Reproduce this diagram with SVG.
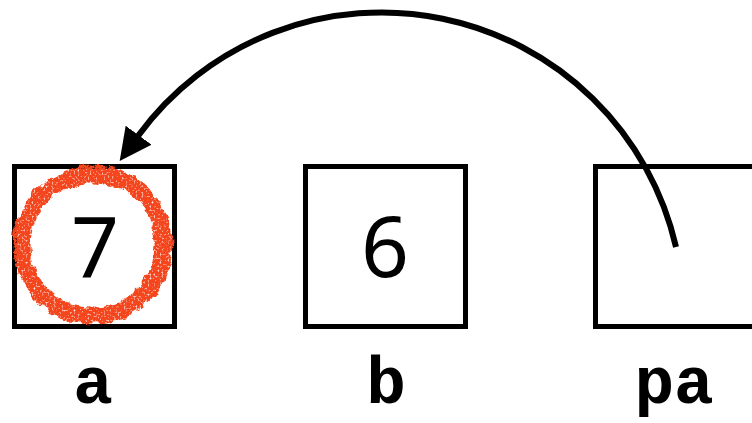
<svg xmlns="http://www.w3.org/2000/svg" width="752" height="423" viewBox="0 0 752 423">
<style>
.box{fill:#fff;stroke:#000;stroke-width:5}
.val{font-family:"Noto Sans","Liberation Sans",sans-serif;font-size:84px;fill:#000;text-anchor:middle}
.lbl{font-family:"Liberation Mono","DejaVu Sans Mono",monospace;font-weight:bold;font-size:66px;fill:#000;text-anchor:middle}
.conn{fill:none;stroke:#000;stroke-width:6}
</style>
<defs>
<marker id="head" markerUnits="userSpaceOnUse" viewBox="0 0 32 32" markerWidth="32" markerHeight="32" refX="1" refY="16" orient="auto">
<path d="M0,0 L32,16 L0,32 z" fill="#000"/>
</marker>
<filter id="rough" x="-20%" y="-20%" width="140%" height="140%">
<feTurbulence type="fractalNoise" baseFrequency="0.1" numOctaves="3" seed="4" result="n"/>
<feDisplacementMap in="SourceGraphic" in2="n" scale="9" xChannelSelector="R" yChannelSelector="G" result="d"/>
<feTurbulence type="fractalNoise" baseFrequency="0.5" numOctaves="2" seed="9" result="s"/>
<feColorMatrix in="s" type="matrix" values="0 0 0 0 0  0 0 0 0 0  0 0 0 0 0  0 0 0 -3 2.6" result="m"/>
<feComposite in="d" in2="m" operator="in"/>
</filter>
</defs>
<g id="node-a">
<rect class="box" x="14.5" y="166.5" width="160" height="160"/>
<text class="val" x="95" y="277">7</text>
<g filter="url(#rough)">
<circle cx="93" cy="245" r="71" fill="none" stroke="#F4451A" stroke-width="17"/>
</g>
<text class="lbl" x="93" y="403">a</text>
</g>
<g id="node-b">
<rect class="box" x="305.5" y="166.5" width="160" height="160"/>
<text class="val" x="385" y="277">6</text>
<text class="lbl" x="386" y="403">b</text>
</g>
<g id="node-pa">
<rect class="box" x="595.5" y="166.5" width="160" height="160"/>
<text class="lbl" x="674" y="403">pa</text>
</g>
<g id="connectors">
<path class="conn" d="M676,247 A302,302 0 0 0 138,136" marker-end="url(#head)"/>
</g>
</svg>
